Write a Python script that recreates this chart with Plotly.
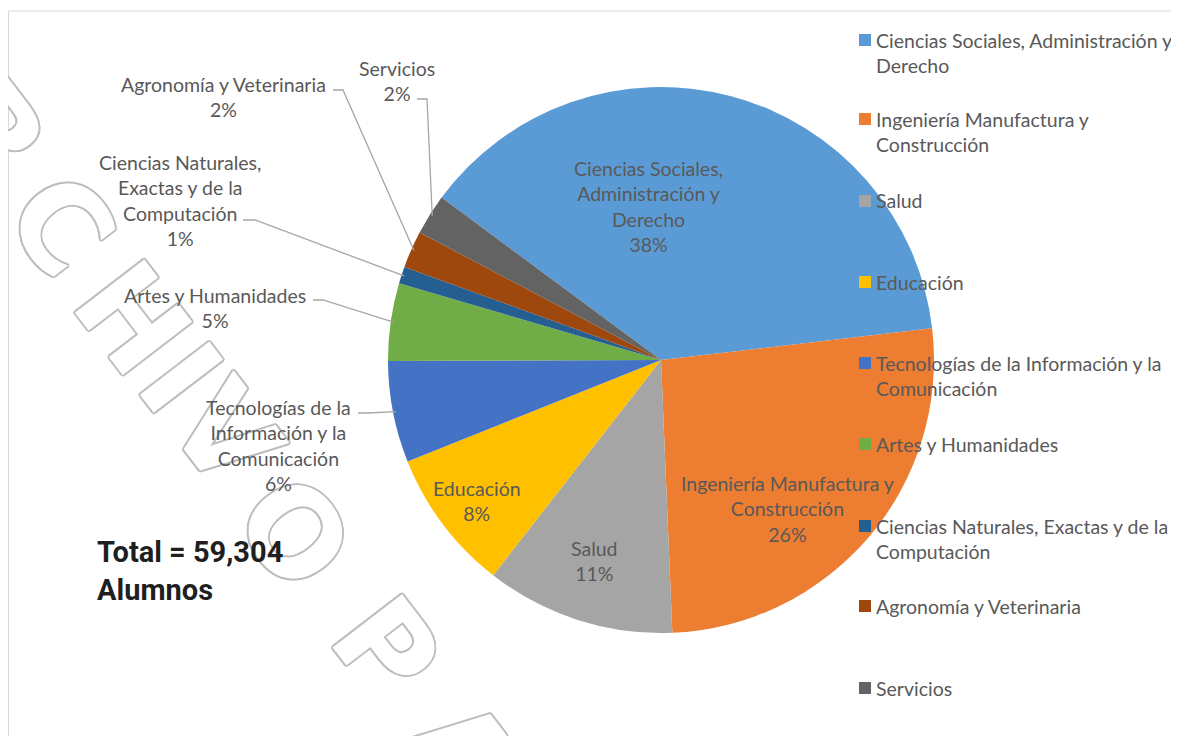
import math
import plotly.graph_objects as go

# page pixels: the figure is placed at (8, 8) by the page body margin
OFF = 8
W, H = 1171, 728

# ---------------- data ----------------
categories = [
    "Ciencias Sociales, Administración y Derecho",
    "Ingeniería Manufactura y Construcción",
    "Salud",
    "Educación",
    "Tecnologías de la Información y la Comunicación",
    "Artes y Humanidades",
    "Ciencias Naturales, Exactas y de la Computación",
    "Agronomía y Veterinaria",
    "Servicios",
]
alumnos = [22536, 15538, 6642, 4982, 3558, 2728, 593, 1305, 1423]
colors = ["#5B9BD5", "#ED7D31", "#A5A5A5", "#FFC000", "#4472C4",
          "#70AD47", "#255E91", "#9E480E", "#636363"]
legend_labels = [
    "Ciencias Sociales, Administración y<br>Derecho",
    "Ingeniería Manufactura y<br>Construcción",
    "Salud",
    "Educación",
    "Tecnologías de la Información y la<br>Comunicación",
    "Artes y Humanidades",
    "Ciencias Naturales, Exactas y de la<br>Computación",
    "Agronomía y Veterinaria",
    "Servicios",
]
slice_labels = [
    "Ciencias Sociales,<br>Administración y<br>Derecho",
    "Ingeniería Manufactura y<br>Construcción",
    "Salud",
    "Educación",
    "Tecnologías de la<br>Información y la<br>Comunicación",
    "Artes y Humanidades",
    "Ciencias Naturales,<br>Exactas y de la<br>Computación",
    "Agronomía y Veterinaria",
    "Servicios",
]
total_text = "Total = 59,304<br>Alumnos"
watermark = "ARCHIVO PA"

# ---------------- layout helpers (page pixel -> paper) ----------------
CX, CY, R = 661, 360, 273
ROT = -53.5
def px(x):
    return (x - OFF) / W
def py(y):
    return 1 - (y - OFF) / H

TXT = "#595959"
FONT = "Lato"
FS = 19.5
LH = FS * 1.3

total = sum(alumnos)
pcts = [round(v / total * 100) for v in alumnos]

fig = go.Figure()
fig.add_trace(go.Pie(
    labels=categories, values=alumnos, sort=False, direction="clockwise",
    rotation=ROT, textinfo="none", hoverinfo="label+value+percent",
    marker=dict(colors=colors, line=dict(width=0)),
    domain=dict(x=[px(CX - R), px(CX + R)], y=[py(CY + R), py(CY - R)]),
    showlegend=False,
))

annotations = []
shapes = []

# watermark (outlined letters)
wm_centers = [(-80, 40), (-8, 132), (61, 225), (132, 318), (180, 378),
              (225, 434), (294, 533), (None, None), (386, 648), (462, 752)]
oc = "#bdbdbd"
shadow = ", ".join(f"{dx}px {dy}px 0 {oc}" for dx, dy in
                   [(2, 0), (-2, 0), (0, 2), (0, -2), (1.4, 1.4), (-1.4, -1.4), (1.4, -1.4), (-1.4, 1.4)])
for ch, (x, y) in zip(watermark, wm_centers):
    if ch == " ":
        continue
    annotations.append(dict(
        x=px(x), y=py(y), xref="paper", yref="paper", text=ch, showarrow=False,
        textangle=52.5, xanchor="center", yanchor="middle",
        font=dict(family="DejaVu Sans", size=120, weight="bold", color="white", shadow=shadow),
    ))

# slice labels
label_pos = [(648, 206.5), (787, 509), (594, 561), (477, 500.5), (278, 445.5),
             (215, 307.5), (180, 201), (223, 97), (397, 81)]
elbows = [None, None, None, None,
          [(358, 413), (368, 413)],
          [(313, 300), (323, 300)],
          [(243, 220), (255, 220)],
          [(333, 90), (343, 90)],
          [(417, 99), (427, 99)]]
cum = 0
for i, v in enumerate(alumnos):
    mid = math.radians(ROT + (cum + v / 2) / total * 360)
    cum += v
    x, y = label_pos[i]
    annotations.append(dict(
        x=px(x), y=py(y), xref="paper", yref="paper",
        text=f"{slice_labels[i]}<br>{pcts[i]}%", showarrow=False,
        xanchor="center", yanchor="middle", align="center",
        font=dict(family=FONT, size=FS, color=TXT),
    ))
    if elbows[i]:
        ex = CX + 0.99 * R * math.sin(mid)
        ey = CY - 0.99 * R * math.cos(mid)
        pts = elbows[i] + [(ex, ey)]
        path = "M " + " L ".join(f"{px(a)},{py(b)}" for a, b in pts)
        shapes.append(dict(type="path", path=path, xref="paper", yref="paper",
                           line=dict(color="#a6a6a6", width=1.3)))

# legend (manual)
leg_y = [40, 119, 201, 282, 363, 444, 526, 606, 688]
for lab, col, y1 in zip(legend_labels, colors, leg_y):
    n = lab.count("<br>") + 1
    shapes.append(dict(type="rect", xref="paper", yref="paper",
                       x0=px(859), x1=px(871), y0=py(y1 - 6), y1=py(y1 + 6),
                       fillcolor=col, line=dict(width=0)))
    annotations.append(dict(
        x=px(874), y=py(y1 + (n - 1) * LH / 2), xref="paper", yref="paper",
        text=lab, showarrow=False, xanchor="left", yanchor="middle", align="left",
        font=dict(family=FONT, size=FS, color=TXT),
    ))

# total
annotations.append(dict(
    x=px(95), y=py(571), xref="paper", yref="paper", text=f"<b>{total_text}</b>",
    showarrow=False, xanchor="left", yanchor="middle", align="left",
    font=dict(family="Roboto", size=29, color="#1f1f1f"),
))

# chart border
shapes.append(dict(type="rect", xref="paper", yref="paper",
                   x0=px(8.5), x1=px(W + OFF + 5), y0=py(H + OFF + 5), y1=py(11),
                   line=dict(color="#d9d9d9", width=1), layer="below"))

fig.update_layout(
    width=W, height=H, margin=dict(l=0, r=0, t=0, b=0),
    paper_bgcolor="white", plot_bgcolor="white",
    annotations=annotations, shapes=shapes, showlegend=False,
)
fig.write_html("out.html")
